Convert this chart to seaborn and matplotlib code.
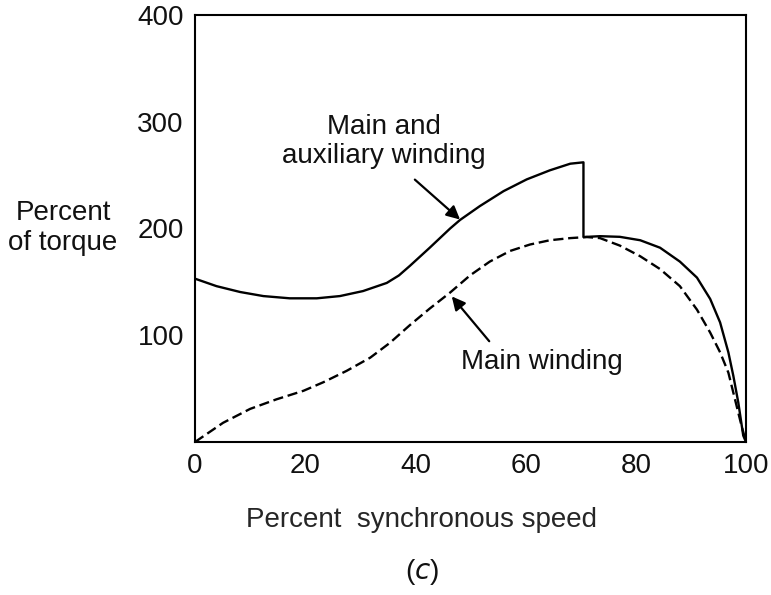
import matplotlib
matplotlib.use("Agg")
import matplotlib.pyplot as plt
import seaborn as sns
import pandas as pd

# Torque-speed curves of a capacitor-start motor
speed_aux = [0, 3.9, 8.2, 12.4, 17.2, 22.1, 26.3, 30.5, 34.8, 37, 39, 42.6, 46.3, 48.1, 51.7,
             56, 60.2, 64.4, 68.1, 70.5,
             70.5, 73.5, 77.1, 80.8, 84.4, 88, 91.1, 93.5, 95.3, 96.8, 97.7, 98.6, 99.5, 100]
torque_aux = [153, 146, 140.5, 136.7, 134.6, 134.6, 136.7, 141.4, 149, 156, 165, 182, 200, 208, 221,
              235, 246, 254.5, 260.7, 262,
              192, 192.8, 192.2, 189, 182, 169, 154, 134, 112, 84, 62, 37, 6, 0]

speed_main = [0, 5.1, 10, 14.8, 19.7, 23.3, 27.5, 31.8, 35.4, 39, 42.6, 46.3, 49.9, 53.5,
              57.2, 60.8, 64.4, 68.1, 71.1, 73.5, 77.1, 80.8, 84.4, 88, 91.1, 93.5, 95.3,
              96.8, 98, 99.2, 100]
torque_main = [0, 18, 31, 40, 48, 56, 66.6, 79, 93, 109.5, 125, 140, 156, 169,
               179, 185, 189, 191, 192, 191, 184, 174, 162, 146, 124, 102.5, 84,
               65, 40, 15, 0]

x_ticks = [0, 20, 40, 60, 80, 100]
y_ticks = [100, 200, 300, 400]

sns.set_style("white")
plt.rcParams["font.family"] = ["Liberation Sans", "DejaVu Sans"]
plt.rcParams["text.color"] = "#111111"

fig = plt.figure(figsize=(7.71, 5.95), dpi=100)
ax = fig.add_axes([195 / 771, 153 / 595, 551 / 771, 427 / 595])

df_aux = pd.DataFrame({"speed": speed_aux, "torque": torque_aux})
df_main = pd.DataFrame({"speed": speed_main, "torque": torque_main})

sns.lineplot(data=df_aux, x="speed", y="torque", ax=ax, estimator=None, sort=False,
             color="black", linewidth=1.7)
sns.lineplot(data=df_main, x="speed", y="torque", ax=ax, estimator=None, sort=False,
             color="black", linewidth=1.7, dashes=False, linestyle=(0, (4.3, 2)))

ax.set_xlim(0, 100)
ax.set_ylim(0, 400)
ax.set_xticks(x_ticks)
ax.set_xticklabels([str(t) for t in x_ticks])
ax.set_yticks(y_ticks)
ax.set_yticklabels([str(t) for t in y_ticks])
ax.tick_params(direction="in", length=12, width=1.5, colors="black",
               labelsize=20, pad=8, labelcolor="#111111")

for side in ["left", "right", "top", "bottom"]:
    ax.spines[side].set_visible(True)
    ax.spines[side].set_color("black")
    ax.spines[side].set_linewidth(1.5)

ax.set_xlabel("Percent  synchronous speed", fontsize=20)
ax.xaxis.set_label_coords((422 - 195) / 551, -78 / 427)
ax.xaxis.label.set_verticalalignment("center")
ax.set_ylabel("")

fig.text(63 / 771, 1 - 228 / 595, "Percent\nof torque", fontsize=20,
         ha="center", va="center", linespacing=1.15)
fig.text(422 / 771, 1 - 572 / 595, "($c$)", fontsize=20, ha="center", va="center")

arrow = dict(arrowstyle="-|>", color="black", lw=1.6, mutation_scale=20,
             shrinkA=0, shrinkB=0)
ax.annotate("", xy=(48.1, 208.4), xytext=(39.9, 245.8), arrowprops=arrow)
ax.annotate("", xy=(46.6, 136.4), xytext=(53.4, 94.4), arrowprops=arrow)

ax.text(34.3, 281.3, "Main and\nauxiliary winding", fontsize=20,
        ha="center", va="center", linespacing=1.15)
ax.text(63.0, 74.8, "Main winding", fontsize=20, ha="center", va="center")

fig.savefig("out.png", dpi=100)
